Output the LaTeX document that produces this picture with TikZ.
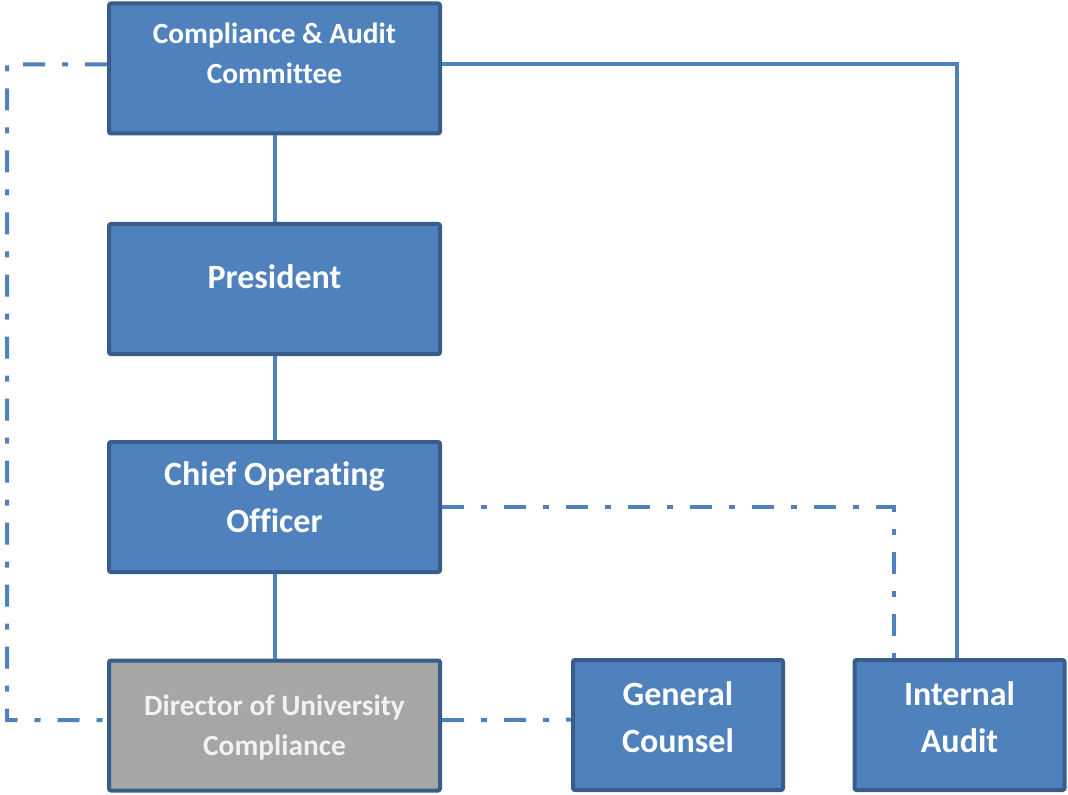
\documentclass[tikz,border=0pt]{standalone}
\usepackage{fontspec}
\setmainfont[Ligatures=NoCommon]{Carlito}
\definecolor{boxblue}{HTML}{4F81BD}
\definecolor{boxedge}{HTML}{385D8A}
\definecolor{boxgray}{HTML}{A6A6A6}
\tikzset{
  box/.style={draw=boxedge,line width=3pt,fill=boxblue,rounded corners=1.5pt,
    minimum width=331*0.75pt,minimum height=130*0.75pt,inner sep=0pt},
  smallbox/.style={box,minimum width=210*0.75pt},
  big/.style={text=white,align=center,font=\fontsize{25.5}{35}\selectfont\bfseries},
  small/.style={text=white,align=center,font=\fontsize{22}{30}\selectfont\bfseries},
  link/.style={draw=boxblue,line width=3pt},
  dashdot/.style={link,dash pattern=on 16.5pt off 12.75pt on 4.5pt off 12.75pt}
}
\begin{document}
\begin{tikzpicture}[x=0.75pt,y=-0.75pt]
\useasboundingbox (0,0) rectangle (1068,795);

\coordinate (lc) at (7,720);

\node[box] (cac) at (274.5,68.5) {};
\node[box] (pres) at (274.5,289) {};
\node[box] (coo) at (274.5,507) {};
\node[box,fill=boxgray] (dir) at (274.5,725.5) {};
\node[smallbox] (gc) at (678,725) {};
\node[smallbox] (ia) at (959.5,725) {};

% solid reporting lines
\draw[link] (cac.south) -- (pres.north);
\draw[link] (pres.south) -- (coo.north);
\draw[link] (coo.south) -- (dir.north);
\draw[link] ([yshift=3pt]cac.east) -| ([xshift=-2pt]ia.north);
% dotted-line reporting
\draw[dashdot] ([yshift=3pt]cac.west) -| (lc) -- ([yshift=4pt]dir.west);
\draw[dashdot] (coo.east) -| ([xshift=-66*0.75pt]ia.north);
\draw[dashdot] ([yshift=4pt]dir.east) -- ([yshift=4pt]gc.west);

% box texts
\node[small] (cacT) at (274.5,53.5) {Compliance \& Audit\\Committee};
\node[big] (presT) at (274.5,277) {President};
\node[big] (cooT) at (274.5,497.5) {Chief Operating\\Officer};
\node[small,text=white!95!black] (dirT) at (274.5,727.5) {Director of University\\Compliance};
\node[big] (gcT) at (678,717) {General\\Counsel};
\node[big] (iaT) at (959.5,717) {Internal\\Audit};

\end{tikzpicture}
\end{document}
